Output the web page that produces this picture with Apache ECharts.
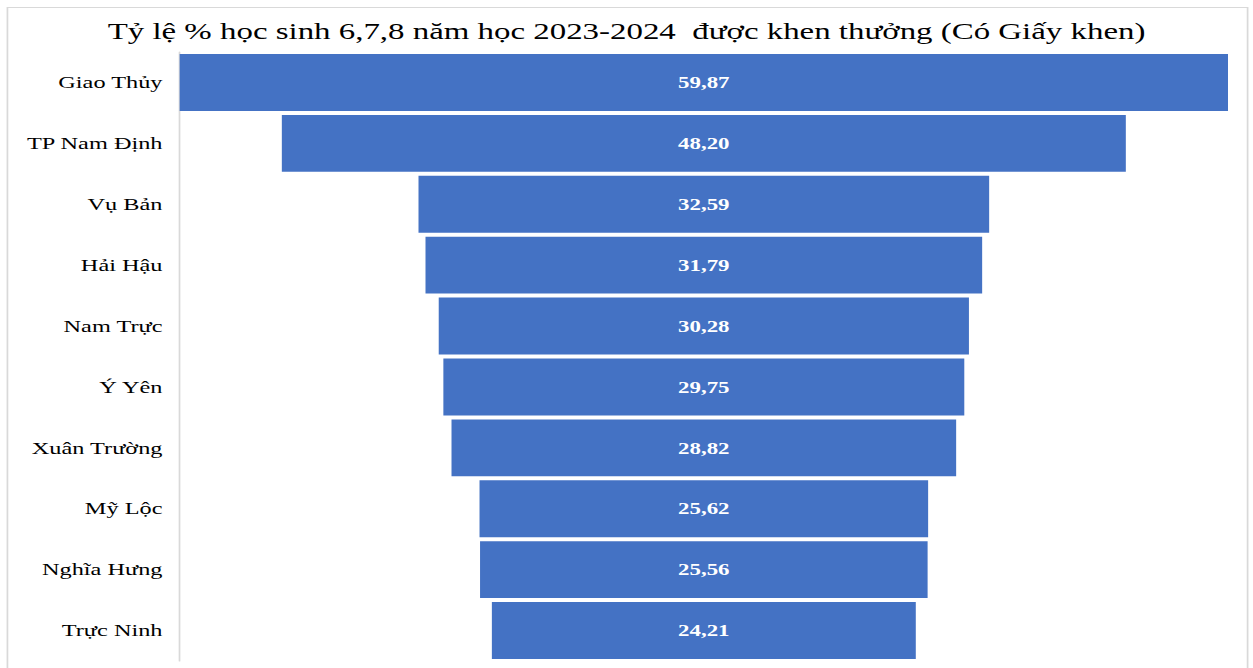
<!DOCTYPE html>
<html>
<head>
<meta charset="utf-8">
<script src="https://cdn.jsdelivr.net/npm/echarts@6/dist/echarts.min.js"></script>
<style>
html,body{margin:0;padding:0;background:#fff;overflow:hidden;}
#wrap{width:1253px;height:668px;overflow:hidden;}
#c{width:876px;height:668px;transform:scaleX(1.4304);transform-origin:0 0;}
</style>
</head>
<body>
<div id="wrap"><div id="c"></div></div>
<script>
const titleText = 'Tỷ lệ % học sinh 6,7,8 năm học 2023-2024  được khen thưởng (Có Giấy khen)';
const categories = ['Giao Thủy','TP Nam Định','Vụ Bản','Hải Hậu','Nam Trực','Ý Yên','Xuân Trường','Mỹ Lộc','Nghĩa Hưng','Trực Ninh'];
const values = [59.87, 48.20, 32.59, 31.79, 30.28, 29.75, 28.82, 25.62, 25.56, 24.21];

const maxVal = Math.max(...values);
const offsets = values.map(v => (maxVal - v) / 2);

const chart = echarts.init(document.getElementById('c'), null, { renderer: 'svg' });
chart.setOption({
  animation: false,
  backgroundColor: '#fff',
  title: {
    text: titleText,
    left: 'center',
    top: 15,
    textStyle: { fontFamily: 'Liberation Serif', fontSize: 23, fontWeight: 'normal', color: '#000' }
  },
  graphic: [{
    type: 'rect',
    shape: { x: 5.2, y: 7.5, width: 867, height: 680 },
    style: { fill: 'none', stroke: '#d9d9d9', lineWidth: 1.2 },
    silent: true, z: -1
  }],
  grid: { left: 125.6, right: 17.5, top: 52, bottom: 7 },
  xAxis: {
    type: 'value', min: 0, max: maxVal, show: false
  },
  yAxis: {
    type: 'category',
    data: categories,
    inverse: true,
    axisLine: { show: true, lineStyle: { color: '#d9d9d9', width: 1.2 } },
    axisTick: { show: false },
    axisLabel: { fontFamily: 'Liberation Serif', fontSize: 17, color: '#000', margin: 12 }
  },
  series: [
    {
      type: 'bar', stack: 'f', data: offsets, barCategoryGap: '6.5%',
      itemStyle: { color: 'transparent' }, silent: true
    },
    {
      type: 'bar', stack: 'f', data: values, barCategoryGap: '6.5%',
      itemStyle: { color: '#4472C4' },
      label: {
        show: true, position: 'inside', color: '#fff',
        fontFamily: 'Liberation Serif', fontSize: 16, fontWeight: 'bold',
        formatter: p => p.value.toFixed(2).replace('.', ',')
      }
    }
  ]
});
</script>
</body>
</html>
